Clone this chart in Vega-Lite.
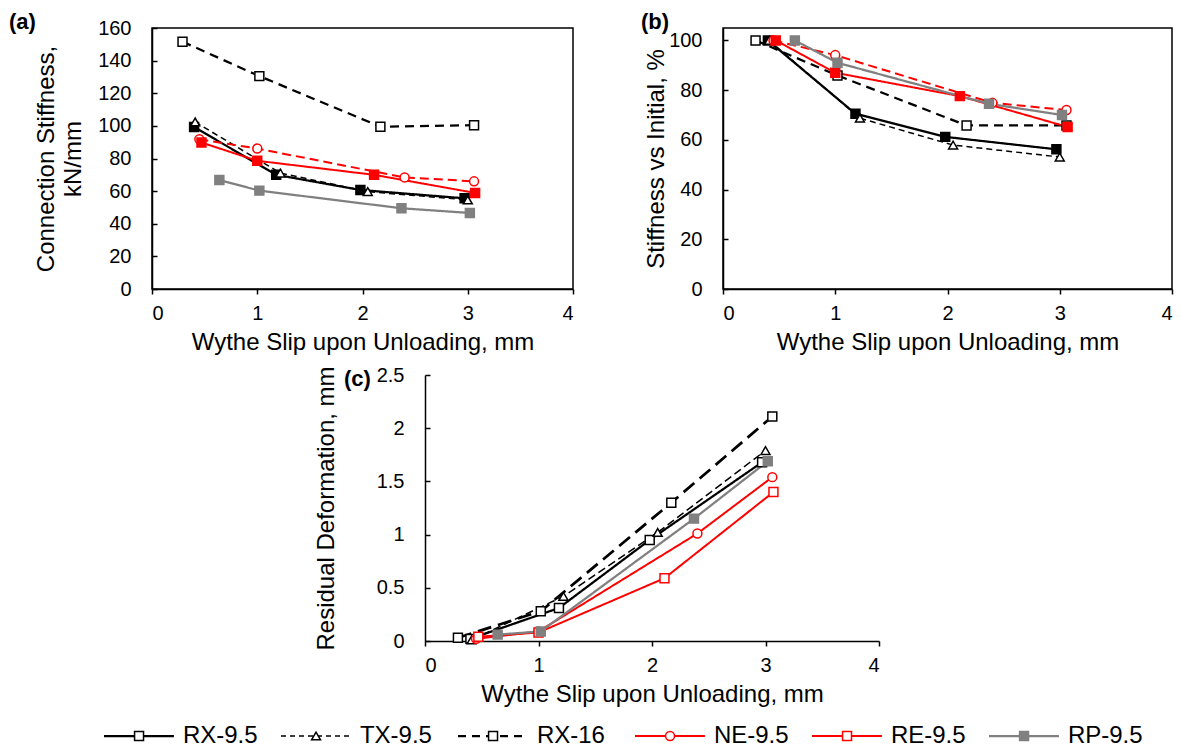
{
  "$schema": "https://vega.github.io/schema/vega-lite/v6.json",
  "padding": {"left": 8, "top": 10, "right": 5, "bottom": 5},
  "background": "white",
  "config": {
    "font": "Liberation Sans",
    "view": {"stroke": "black", "strokeWidth": 1.5},
    "axis": {"grid": false, "domainColor": "black", "domainWidth": 1.5, "tickColor": "black", "tickWidth": 1.5, "labelColor": "black", "labelFontSize": 20, "labelFont": "Liberation Sans", "titleFont": "Liberation Sans", "titleFontSize": 24, "titleFontWeight": "normal", "titleColor": "black", "titleLineHeight": 27, "labelOverlap": false},
    "axisX": {"tickSize": 5, "labelPadding": 9, "titlePadding": 7, "format": "d"},
    "axisY": {"tickSize": -5, "labelPadding": 26, "minExtent": 54, "maxExtent": 54, "labelOverlap": false, "labelBound": false},
    "title": {"fontSize": 22, "fontWeight": "bold", "anchor": "start", "frame": "group", "baseline": "alphabetic", "offset": 2, "color": "black", "font": "Liberation Sans"}
  },
  "datasets": {
    "stiff": [
      {"series": "RX-9.5", "slip": 0.40, "value": 99.3}, {"series": "RX-9.5", "slip": 1.18, "value": 70.0}, {"series": "RX-9.5", "slip": 1.98, "value": 60.7}, {"series": "RX-9.5", "slip": 2.97, "value": 55.6},
      {"series": "TX-9.5", "slip": 0.41, "value": 102.4}, {"series": "TX-9.5", "slip": 1.22, "value": 71.1}, {"series": "TX-9.5", "slip": 2.05, "value": 59.7}, {"series": "TX-9.5", "slip": 3.00, "value": 54.6},
      {"series": "RX-16", "slip": 0.29, "value": 151.6}, {"series": "RX-16", "slip": 1.02, "value": 130.5}, {"series": "RX-16", "slip": 2.17, "value": 99.5}, {"series": "RX-16", "slip": 3.06, "value": 100.4},
      {"series": "NE-9.5", "slip": 0.45, "value": 91.8}, {"series": "NE-9.5", "slip": 1.00, "value": 86.1}, {"series": "NE-9.5", "slip": 2.40, "value": 68.4}, {"series": "NE-9.5", "slip": 3.06, "value": 66.0},
      {"series": "RE-9.5", "slip": 0.47, "value": 89.8}, {"series": "RE-9.5", "slip": 1.00, "value": 78.6}, {"series": "RE-9.5", "slip": 2.11, "value": 70.0}, {"series": "RE-9.5", "slip": 3.07, "value": 58.9},
      {"series": "RP-9.5", "slip": 0.64, "value": 66.8}, {"series": "RP-9.5", "slip": 1.02, "value": 60.3}, {"series": "RP-9.5", "slip": 2.37, "value": 49.5}, {"series": "RP-9.5", "slip": 3.02, "value": 46.6}
    ],
    "ratio": [
      {"series": "RX-9.5", "slip": 0.40, "value": 100}, {"series": "RX-9.5", "slip": 1.18, "value": 70.5}, {"series": "RX-9.5", "slip": 1.98, "value": 61.2}, {"series": "RX-9.5", "slip": 2.97, "value": 56.2},
      {"series": "TX-9.5", "slip": 0.41, "value": 100}, {"series": "TX-9.5", "slip": 1.22, "value": 68.7}, {"series": "TX-9.5", "slip": 2.05, "value": 57.9}, {"series": "TX-9.5", "slip": 3.00, "value": 53.1},
      {"series": "RX-16", "slip": 0.29, "value": 100}, {"series": "RX-16", "slip": 1.02, "value": 85.9}, {"series": "RX-16", "slip": 2.17, "value": 65.8}, {"series": "RX-16", "slip": 3.06, "value": 65.8},
      {"series": "NE-9.5", "slip": 0.45, "value": 100}, {"series": "NE-9.5", "slip": 1.00, "value": 94.1}, {"series": "NE-9.5", "slip": 2.40, "value": 74.9}, {"series": "NE-9.5", "slip": 3.06, "value": 72.0},
      {"series": "RE-9.5", "slip": 0.47, "value": 100}, {"series": "RE-9.5", "slip": 1.00, "value": 87.0}, {"series": "RE-9.5", "slip": 2.11, "value": 77.6}, {"series": "RE-9.5", "slip": 3.07, "value": 65.2},
      {"series": "RP-9.5", "slip": 0.64, "value": 100}, {"series": "RP-9.5", "slip": 1.02, "value": 91.0}, {"series": "RP-9.5", "slip": 2.37, "value": 74.5}, {"series": "RP-9.5", "slip": 3.02, "value": 70.0}
    ],
    "resid": [
      {"series": "RX-9.5", "slip": 0.40, "value": 0.02}, {"series": "RX-9.5", "slip": 1.18, "value": 0.31}, {"series": "RX-9.5", "slip": 1.98, "value": 0.95}, {"series": "RX-9.5", "slip": 2.97, "value": 1.68},
      {"series": "TX-9.5", "slip": 0.41, "value": 0.01}, {"series": "TX-9.5", "slip": 1.22, "value": 0.42}, {"series": "TX-9.5", "slip": 2.05, "value": 1.02}, {"series": "TX-9.5", "slip": 3.00, "value": 1.79},
      {"series": "RX-16", "slip": 0.29, "value": 0.03}, {"series": "RX-16", "slip": 1.02, "value": 0.28}, {"series": "RX-16", "slip": 2.17, "value": 1.30}, {"series": "RX-16", "slip": 3.06, "value": 2.11},
      {"series": "NE-9.5", "slip": 0.45, "value": 0.02}, {"series": "NE-9.5", "slip": 1.00, "value": 0.09}, {"series": "NE-9.5", "slip": 2.40, "value": 1.01}, {"series": "NE-9.5", "slip": 3.06, "value": 1.54},
      {"series": "RE-9.5", "slip": 0.47, "value": 0.04}, {"series": "RE-9.5", "slip": 1.00, "value": 0.08}, {"series": "RE-9.5", "slip": 2.11, "value": 0.59}, {"series": "RE-9.5", "slip": 3.07, "value": 1.40},
      {"series": "RP-9.5", "slip": 0.64, "value": 0.06}, {"series": "RP-9.5", "slip": 1.02, "value": 0.09}, {"series": "RP-9.5", "slip": 2.37, "value": 1.15}, {"series": "RP-9.5", "slip": 3.02, "value": 1.69}
    ],
    "legend": [
      {"series": "RX-9.5"}, {"series": "TX-9.5"}, {"series": "RX-16"}, {"series": "NE-9.5"}, {"series": "RE-9.5"}, {"series": "RP-9.5"}
    ]
  },
  "spacing": 10,
  "resolve": {"scale": {"x": "independent", "y": "independent", "color": "independent", "stroke": "independent", "fill": "independent", "strokeDash": "independent", "strokeWidth": "independent", "shape": "independent"}},
  "vconcat": [
    {
      "bounds": "flush",
      "spacing": 150,
      "resolve": {"scale": {"x": "independent", "y": "independent", "color": "independent", "stroke": "independent", "fill": "independent", "strokeDash": "independent", "strokeWidth": "independent", "shape": "independent"}},
      "hconcat": [
        {
          "width": 421, "height": 261,
          "title": {"text": "(a)", "dx": -143, "dy": 18},
          "data": {"name": "stiff"},
          "encoding": {
            "x": {"field": "slip", "type": "quantitative", "scale": {"domain": [0, 4], "nice": false}, "axis": {"values": [0, 1, 2, 3, 4], "title": "Wythe Slip upon Unloading, mm"}},
            "y": {"field": "value", "type": "quantitative", "scale": {"domain": [0, 160], "nice": false}, "axis": {"values": [0, 20, 40, 60, 80, 100, 120, 140, 160], "labelOverlap": false, "title": ["Connection Stiffness,", "kN/mm"], "titlePadding": 13}}
          },
          "layer": [
            {
              "mark": {"type": "line"},
              "encoding": {
                "color": {"field": "series", "type": "nominal", "scale": {"domain": ["RX-9.5", "TX-9.5", "RX-16", "NE-9.5", "RE-9.5", "RP-9.5"], "range": ["#000000", "#000000", "#000000", "#ff0000", "#ff0000", "#808080"]}, "legend": null},
                "strokeDash": {"field": "series", "type": "nominal", "scale": {"domain": ["RX-9.5", "TX-9.5", "RX-16", "NE-9.5", "RE-9.5", "RP-9.5"], "range": [[1, 0], [6, 4], [9, 6], [9, 5], [1, 0], [1, 0]]}, "legend": null},
                "strokeWidth": {"field": "series", "type": "nominal", "scale": {"type": "ordinal", "domain": ["RX-9.5", "TX-9.5", "RX-16", "NE-9.5", "RE-9.5", "RP-9.5"], "range": [2.25, 1.5, 2.25, 2, 2, 2.25]}, "legend": null}
              }
            },
            {
              "mark": {"type": "point", "filled": true, "size": 80, "strokeWidth": 1.5, "opacity": 1},
              "encoding": {
                "shape": {"field": "series", "type": "nominal", "scale": {"domain": ["RX-9.5", "TX-9.5", "RX-16", "NE-9.5", "RE-9.5", "RP-9.5"], "range": ["square", "triangle-up", "square", "circle", "square", "square"]}, "legend": null},
                "stroke": {"field": "series", "type": "nominal", "scale": {"domain": ["RX-9.5", "TX-9.5", "RX-16", "NE-9.5", "RE-9.5", "RP-9.5"], "range": ["#000000", "#000000", "#000000", "#ff0000", "#ff0000", "#808080"]}, "legend": null},
                "fill": {"field": "series", "type": "nominal", "scale": {"domain": ["RX-9.5", "TX-9.5", "RX-16", "NE-9.5", "RE-9.5", "RP-9.5"], "range": ["#000000", "#ffffff", "#ffffff", "#ffffff", "#ff0000", "#808080"]}, "legend": null}
              }
            }
          ]
        },
        {
          "width": 449, "height": 261,
          "title": {"text": "(b)", "dx": -82, "dy": 8},
          "data": {"name": "ratio"},
          "encoding": {
            "x": {"field": "slip", "type": "quantitative", "scale": {"domain": [0, 4], "nice": false}, "axis": {"values": [0, 1, 2, 3, 4], "title": "Wythe Slip upon Unloading, mm"}},
            "y": {"field": "value", "type": "quantitative", "scale": {"domain": [0, 105], "nice": false}, "axis": {"values": [0, 20, 40, 60, 80, 100], "title": "Stiffness vs Initial, %", "titlePadding": 1}}
          },
          "layer": [
            {
              "mark": {"type": "line"},
              "encoding": {
                "color": {"field": "series", "type": "nominal", "scale": {"domain": ["RX-9.5", "TX-9.5", "RX-16", "NE-9.5", "RE-9.5", "RP-9.5"], "range": ["#000000", "#000000", "#000000", "#ff0000", "#ff0000", "#808080"]}, "legend": null},
                "strokeDash": {"field": "series", "type": "nominal", "scale": {"domain": ["RX-9.5", "TX-9.5", "RX-16", "NE-9.5", "RE-9.5", "RP-9.5"], "range": [[1, 0], [6, 4], [9, 6], [9, 5], [1, 0], [1, 0]]}, "legend": null},
                "strokeWidth": {"field": "series", "type": "nominal", "scale": {"type": "ordinal", "domain": ["RX-9.5", "TX-9.5", "RX-16", "NE-9.5", "RE-9.5", "RP-9.5"], "range": [2.25, 1.5, 2.25, 2, 2, 2.25]}, "legend": null}
              }
            },
            {
              "mark": {"type": "point", "filled": true, "size": 80, "strokeWidth": 1.5, "opacity": 1},
              "encoding": {
                "shape": {"field": "series", "type": "nominal", "scale": {"domain": ["RX-9.5", "TX-9.5", "RX-16", "NE-9.5", "RE-9.5", "RP-9.5"], "range": ["square", "triangle-up", "square", "circle", "square", "square"]}, "legend": null},
                "stroke": {"field": "series", "type": "nominal", "scale": {"domain": ["RX-9.5", "TX-9.5", "RX-16", "NE-9.5", "RE-9.5", "RP-9.5"], "range": ["#000000", "#000000", "#000000", "#ff0000", "#ff0000", "#808080"]}, "legend": null},
                "fill": {"field": "series", "type": "nominal", "scale": {"domain": ["RX-9.5", "TX-9.5", "RX-16", "NE-9.5", "RE-9.5", "RP-9.5"], "range": ["#000000", "#ffffff", "#ffffff", "#ffffff", "#ff0000", "#808080"]}, "legend": null}
              }
            }
          ]
        }
      ]
    },
    {
      "bounds": "flush",
      "spacing": 257,
      "resolve": {"scale": {"x": "independent", "y": "independent", "color": "independent", "stroke": "independent", "fill": "independent", "strokeDash": "independent", "strokeWidth": "independent", "shape": "independent"}},
      "hconcat": [
        {
          "width": 16, "height": 1,
          "view": {"stroke": null},
          "data": {"values": []},
          "mark": {"type": "rule"},
          "encoding": {}
        },
        {
          "width": 454, "height": 266,
          "view": {"stroke": null},
          "title": {"text": "(c)", "dx": -81, "dy": 28},
          "data": {"name": "resid"},
          "encoding": {
            "x": {"field": "slip", "type": "quantitative", "scale": {"domain": [0, 4], "nice": false}, "axis": {"values": [0, 1, 2, 3, 4], "title": "Wythe Slip upon Unloading, mm"}},
            "y": {"field": "value", "type": "quantitative", "scale": {"domain": [0, 2.5], "nice": false}, "axis": {"values": [0, 0.5, 1, 1.5, 2, 2.5], "format": "~g", "title": "Residual Deformation, mm", "titlePadding": 33}}
          },
          "layer": [
            {
              "mark": {"type": "line"},
              "encoding": {
                "color": {"field": "series", "type": "nominal", "scale": {"domain": ["RX-9.5", "TX-9.5", "RX-16", "NE-9.5", "RE-9.5", "RP-9.5"], "range": ["#000000", "#000000", "#000000", "#ff0000", "#ff0000", "#808080"]}, "legend": null},
                "strokeDash": {"field": "series", "type": "nominal", "scale": {"domain": ["RX-9.5", "TX-9.5", "RX-16", "NE-9.5", "RE-9.5", "RP-9.5"], "range": [[1, 0], [8, 4], [14, 7], [1, 0], [1, 0], [1, 0]]}, "legend": null},
                "strokeWidth": {"field": "series", "type": "nominal", "scale": {"type": "ordinal", "domain": ["RX-9.5", "TX-9.5", "RX-16", "NE-9.5", "RE-9.5", "RP-9.5"], "range": [2.25, 1.5, 2.75, 2, 2, 2.25]}, "legend": null}
              }
            },
            {
              "mark": {"type": "point", "filled": true, "size": 80, "strokeWidth": 1.5, "opacity": 1},
              "encoding": {
                "shape": {"field": "series", "type": "nominal", "scale": {"domain": ["RX-9.5", "TX-9.5", "RX-16", "NE-9.5", "RE-9.5", "RP-9.5"], "range": ["square", "triangle-up", "square", "circle", "square", "square"]}, "legend": null},
                "stroke": {"field": "series", "type": "nominal", "scale": {"domain": ["RX-9.5", "TX-9.5", "RX-16", "NE-9.5", "RE-9.5", "RP-9.5"], "range": ["#000000", "#000000", "#000000", "#ff0000", "#ff0000", "#808080"]}, "legend": null},
                "fill": {"field": "series", "type": "nominal", "scale": {"domain": ["RX-9.5", "TX-9.5", "RX-16", "NE-9.5", "RE-9.5", "RP-9.5"], "range": ["#ffffff", "#ffffff", "#ffffff", "#ffffff", "#ffffff", "#808080"]}, "legend": null}
              }
            }
          ]
        }
      ]
    },
    {
      "width": 1014, "height": 40,
      "view": {"stroke": null},
      "data": {"name": "legend"},
      "layer": [
        {
          "mark": {"type": "rule"},
          "encoding": {
            "x": {"field": "series", "type": "nominal", "bandPosition": 0, "scale": {"type": "band", "domain": ["RX-9.5", "TX-9.5", "RX-16", "NE-9.5", "RE-9.5", "RP-9.5"], "range": [-48, 1014], "paddingInner": 0, "paddingOuter": 0}, "axis": null},
            "x2": {"field": "series", "bandPosition": 0.395},
            "color": {"field": "series", "type": "nominal", "scale": {"domain": ["RX-9.5", "TX-9.5", "RX-16", "NE-9.5", "RE-9.5", "RP-9.5"], "range": ["#000000", "#000000", "#000000", "#ff0000", "#ff0000", "#808080"]}, "legend": null},
            "strokeDash": {"field": "series", "type": "nominal", "scale": {"domain": ["RX-9.5", "TX-9.5", "RX-16", "NE-9.5", "RE-9.5", "RP-9.5"], "range": [[1, 0], [5, 4], [8, 6], [1, 0], [1, 0], [1, 0]]}, "legend": null},
            "strokeWidth": {"field": "series", "type": "nominal", "scale": {"type": "ordinal", "domain": ["RX-9.5", "TX-9.5", "RX-16", "NE-9.5", "RE-9.5", "RP-9.5"], "range": [2.25, 1.5, 2.25, 2, 2, 2.25]}, "legend": null}
          }
        },
        {
          "mark": {"type": "point", "filled": true, "size": 80, "strokeWidth": 1.5, "opacity": 1},
          "encoding": {
            "x": {"field": "series", "type": "nominal", "bandPosition": 0.198},
            "shape": {"field": "series", "type": "nominal", "scale": {"domain": ["RX-9.5", "TX-9.5", "RX-16", "NE-9.5", "RE-9.5", "RP-9.5"], "range": ["square", "triangle-up", "square", "circle", "square", "square"]}, "legend": null},
            "stroke": {"field": "series", "type": "nominal", "scale": {"domain": ["RX-9.5", "TX-9.5", "RX-16", "NE-9.5", "RE-9.5", "RP-9.5"], "range": ["#000000", "#000000", "#000000", "#ff0000", "#ff0000", "#808080"]}, "legend": null},
            "fill": {"field": "series", "type": "nominal", "scale": {"domain": ["RX-9.5", "TX-9.5", "RX-16", "NE-9.5", "RE-9.5", "RP-9.5"], "range": ["#ffffff", "#ffffff", "#ffffff", "#ffffff", "#ffffff", "#808080"]}, "legend": null}
          }
        },
        {
          "mark": {"type": "text", "align": "left", "baseline": "middle", "fontSize": 24, "font": "Liberation Sans", "color": "black"},
          "encoding": {
            "x": {"field": "series", "type": "nominal", "bandPosition": 0.446},
            "text": {"field": "series"}
          }
        }
      ]
    }
  ]
}
